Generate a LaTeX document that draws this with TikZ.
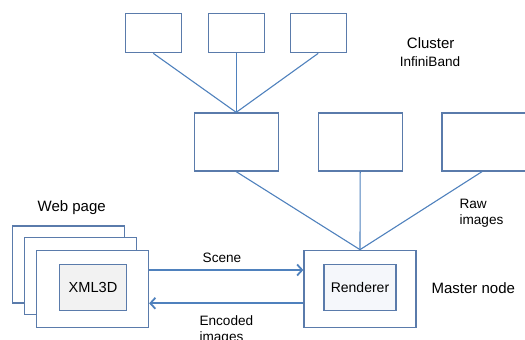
\documentclass[tikz,border=0pt]{standalone}
\usepackage{fontspec}
\setmainfont{Liberation Sans}
\usetikzlibrary{arrows.meta}

\definecolor{boxline}{HTML}{5A7BAB}
\definecolor{wire}{HTML}{4F81BD}
\definecolor{xmlfill}{HTML}{F2F2F2}
\definecolor{renderfill}{HTML}{F5F7FB}

\tikzset{
  smallbox/.style={draw=boxline, line width=1.3pt, fill=white, minimum width=56pt, minimum height=39pt, inner sep=0pt},
  bigbox/.style={draw=boxline, line width=1.3pt, fill=white, minimum width=84pt, minimum height=58pt, inner sep=0pt},
  pagebox/.style={draw=boxline, line width=1.3pt, fill=white, minimum width=112pt, minimum height=77pt, inner sep=0pt},
  innerbox/.style={draw=boxline, line width=1.1pt, minimum width=70pt, minimum height=46pt, inner sep=0pt, font=\fontsize{14}{16}\selectfont},
  wireline/.style={draw=wire, line width=1.1pt},
  flow/.style={draw=wire, line width=1.8pt, -{Straight Barb[length=5pt,width=11pt]}},
  biglabel/.style={font=\fontsize{15}{18}\selectfont},
  smalllabel/.style={font=\fontsize{13.6}{16}\selectfont, align=left}
}

\begin{document}
\begin{tikzpicture}[x=1pt, y=-1pt]

        \useasboundingbox (0,0) rectangle (525,340);

        % cluster

        \node [smallbox] (top1) at (153.3,33.2) {};
        \node [smallbox] (top2) at (236.2,33.2) {};
        \node [smallbox] (top3) at (318.2,33.2) {};

        \node [bigbox] (mid1) at (236.2,142) {};
        \node [bigbox] (mid2) at (360.2,142) {};
        \node [bigbox, minimum width=86pt] (mid3) at (485,142) {};

        \draw [wireline] (top1.south) -- (mid1.north);
        \draw [wireline] (top2.south) -- (mid1.north);
        \draw [wireline] (top3.south) -- (mid1.north);

        \node [biglabel] (cluster) at (430.7,43) {Cluster};
        \node [smalllabel] (infiniband) at (430,62) {InfiniBand};

        % master node

        \node [pagebox] (master) at (360,288.8) {};
        \node [innerbox, fill=renderfill, minimum width=72pt] (renderer) at (360,287.7) {Renderer};

        \draw [wireline] ([xshift=-3pt]mid3.south) -- (master.north);
        \draw [wireline] (mid2.south) -- (master.north);
        \draw [wireline] (mid1.south) -- (master.north);

        \node [smalllabel, anchor=west] (raw) at (456,213.5) {Raw\\images};
        \node [biglabel] (masterlabel) at (473.3,288) {Master node};

        % web page

        \node [pagebox] (page1) at (68.8,264.5) {};
        \node [pagebox] (page2) at (80.5,276.3) {};
        \node [pagebox] (page3) at (92.5,288.8) {};
        \node [innerbox, fill=xmlfill, minimum width=67pt, font=\fontsize{14.6}{16}\selectfont] (xml) at (93,287.7) {XML3D};

        \node [biglabel] (webpage) at (71.7,208) {Web page};

        % scene and images

        \draw [flow] (page3.east |- 0,270) -- (master.west |- 0,270);
        \draw [flow] (master.west |- 0,303.3) -- (page3.east |- 0,303.3);

        \node [smalllabel] (scene) at (222,258) {Scene};
        \node [smalllabel, anchor=north west] (encoded) at (196,312) {Encoded\\images};

    \end{tikzpicture}
\end{document}
